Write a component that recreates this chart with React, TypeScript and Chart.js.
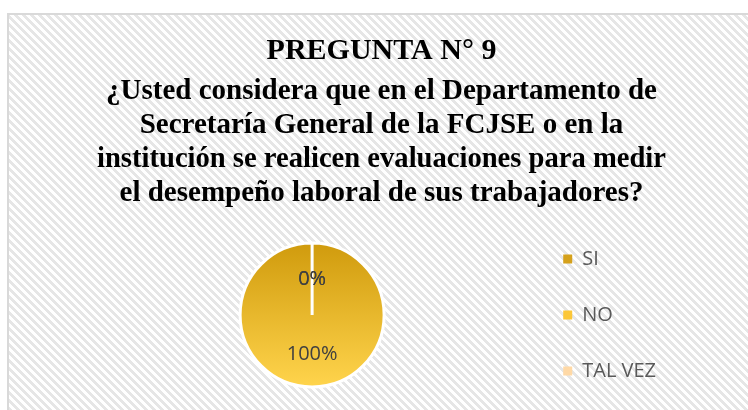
import React, { useEffect, useRef } from "react";
import { Chart, registerables } from "chart.js";

Chart.register(...registerables);

const titulo = "PREGUNTA N° 9";
const pregunta = [
  "¿Usted considera que en el Departamento de",
  "Secretaría General de la FCJSE o en la",
  "institución se realicen evaluaciones para medir",
  "el desempeño laboral de sus trabajadores?",
];
const categorias = ["SI", "NO", "TAL VEZ"];
const porcentajes = [0, 100, 0];

const coloresLeyenda = ["#D5A11B", "#FCC737", "#FFD9A6"];
const gradArriba = "#D09B0D";
const gradAbajo = "#FFD44C";
const RADIO = 72;

const etiquetasPie = {
  id: "etiquetasPie",
  afterDatasetsDraw(chart: any) {
    const { ctx } = chart;
    const meta = chart.getDatasetMeta(0);
    const data = chart.data.datasets[0].data as number[];
    const total = data.reduce((a, b) => a + b, 0);
    ctx.save();
    ctx.font = "20px 'Open Sans', sans-serif";
    ctx.fillStyle = "#404040";
    ctx.textAlign = "center";
    ctx.textBaseline = "middle";
    meta.data.forEach((arc: any, i: number) => {
      const p = arc.getProps(["x", "y", "startAngle", "endAngle", "outerRadius"], true);
      const mid = (p.startAngle + p.endAngle) / 2;
      const r = p.outerRadius * 0.52;
      const txt = Math.round((data[i] / total) * 100) + "%";
      ctx.fillText(txt, p.x + Math.cos(mid) * r, p.y + Math.sin(mid) * r + 2);
    });
    ctx.restore();
  },
};

export default function App() {
  const ref = useRef<HTMLCanvasElement | null>(null);

  useEffect(() => {
    if (!ref.current) return;
    const chart = new Chart(ref.current, {
      type: "pie",
      data: {
        labels: categorias,
        datasets: [
          {
            data: porcentajes,
            radius: RADIO,
            borderColor: "#FFFFFF",
            borderWidth: 3,
            backgroundColor: (c: any) => {
              const ch = c.chart;
              const a = ch.chartArea;
              if (!a) return coloresLeyenda[1];
              const cy = (a.top + a.bottom) / 2;
              const g = ch.ctx.createLinearGradient(0, cy - RADIO, 0, cy + RADIO);
              g.addColorStop(0, gradArriba);
              g.addColorStop(1, gradAbajo);
              return g;
            },
          } as any,
        ],
      },
      options: {
        responsive: false,
        animation: false,
        layout: { padding: { top: 0, left: 97, right: 82, bottom: 1 } },
        plugins: {
          title: {
            display: true,
            text: titulo,
            color: "#000000",
            font: { family: "'Liberation Serif', 'Times New Roman', serif", size: 30, weight: "bold", lineHeight: 1.2 },
            padding: { top: 33, bottom: 3 },
          },
          subtitle: {
            display: true,
            text: pregunta,
            color: "#000000",
            font: { family: "'Liberation Serif', 'Times New Roman', serif", size: 29, weight: "bold", lineHeight: 34 / 29 },
            padding: { top: 3, bottom: 0 },
          },
          legend: {
            position: "right",
            align: "center",
            fullSize: false,
            labels: {
              boxWidth: 9,
              boxHeight: 9,
              padding: 36,
              color: "#595959",
              font: { family: "'Open Sans', sans-serif", size: 20 },
              generateLabels: () =>
                categorias.map((t, i) => ({
                  text: t,
                  fillStyle: coloresLeyenda[i],
                  strokeStyle: "rgba(0,0,0,0)",
                  lineWidth: 0,
                  hidden: false,
                  index: i,
                  fontColor: "#595959",
                })),
            },
          },
          tooltip: { enabled: false },
        },
      },
      plugins: [etiquetasPie],
    });
    return () => chart.destroy();
  }, []);

  return (
    <div
      style={{
        position: "fixed",
        left: 0,
        top: 0,
        width: 748,
        height: 410,
        overflow: "hidden",
        background: "#ffffff",
      }}
    >
      <div
        style={{
          position: "absolute",
          left: 7,
          top: 13,
          width: 760,
          height: 420,
          borderTop: "2px solid #d9d9d9",
          borderLeft: "2px solid #d9d9d9",
          background:
            "repeating-linear-gradient(45deg, #e6e6e6 0px, #e6e6e6 2.83px, #ffffff 2.83px, #ffffff 5.66px)",
        }}
      />
      <canvas
        ref={ref}
        width={748}
        height={420}
        style={{ position: "absolute", left: 0, top: 0 }}
      />
    </div>
  );
}
